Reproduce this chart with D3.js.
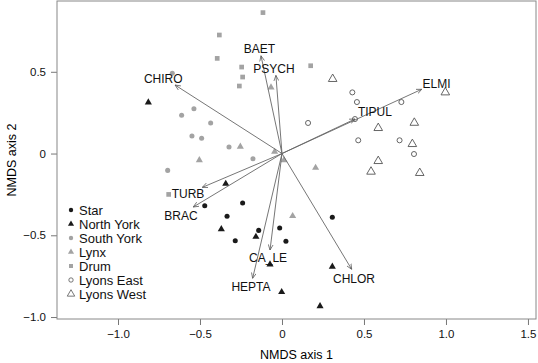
<!DOCTYPE html>
<html>
<head>
<meta charset="utf-8">
<script src="https://cdn.jsdelivr.net/npm/d3@7"></script>
<style>
  body { margin: 0; background: #fff; }
  svg { font-family: "Liberation Sans", Arial, sans-serif; }
</style>
</head>
<body>
<div id="chart"></div>
<script>
// site scores, one array per site (NMDS1, NMDS2)
const star = [[-0.471, -0.319], [-0.240, -0.303], [-0.335, -0.384], [-0.142, -0.470],
  [-0.285, -0.533], [-0.014, -0.456], [0.024, -0.537], [0.307, -0.390]];
const northYork = [[-0.815, 0.313], [-0.343, -0.185], [-0.370, -0.462], [-0.159, -0.509],
  [-0.073, -0.678], [0.307, -0.692], [-0.002, -0.847], [0.232, -0.933]];
const southYork = [[-0.669, 0.491], [-0.537, 0.274], [-0.612, 0.234], [-0.435, 0.187],
  [-0.549, 0.107], [-0.490, 0.093], [-0.323, 0.040], [-0.177, -0.032], [-0.697, -0.103]];
const lynx = [[-0.254, 0.042], [-0.504, -0.040], [-0.045, 0.011], [0.012, -0.040],
  [0.205, -0.087], [0.065, -0.382], [-0.067, 0.405]];
const drum = [[-0.116, 0.862], [-0.382, 0.725], [-0.395, 0.582], [-0.246, 0.529],
  [-0.240, 0.468], [-0.260, 0.413], [0.175, 0.537], [-0.691, -0.250]];
const lyonsEast = [[0.429, 0.374], [0.457, 0.315], [0.728, 0.315], [0.159, 0.187],
  [0.445, 0.211], [0.465, 0.081], [0.717, 0.081], [0.805, -0.003]];
const lyonsWest = [[0.309, 0.456], [0.996, 0.374], [0.587, 0.156], [0.807, 0.188],
  [0.795, 0.058], [0.587, -0.046], [0.543, -0.111], [0.840, -0.119]];

// fitted taxa vectors
const taxa = ['ELMI', 'TIPUL', 'BAET', 'PSYCH', 'CHIRO', 'TURB', 'BRAC', 'CA_LE', 'HEPTA', 'CHLOR'];
const tipX = [0.852, 0.445, -0.128, -0.037, -0.652, -0.486, -0.541, -0.073, -0.179, 0.425];
const tipY = [0.393, 0.211, 0.598, 0.478, 0.419, -0.207, -0.327, -0.590, -0.763, -0.708];
const labelX = [0.943, 0.567, -0.138, -0.049, -0.724, -0.573, -0.616, -0.085, -0.189, 0.439];
const labelY = [0.429, 0.256, 0.639, 0.519, 0.456, -0.248, -0.382, -0.637, -0.817, -0.763];

const xTicks = [-1, -0.5, 0, 0.5, 1, 1.5];
const yTicks = [-1, -0.5, 0, 0.5];

const width = 538, height = 363;
const margin = {top: 1, left: 57, right: 2, bottom: 44};

let svg = d3.select('#chart')
  .append('svg')
    .attr('width', width)
    .attr('height', height);

let x = d3.scaleLinear()
  .domain([-1.372, 1.549])
  .range([margin.left, width - margin.right]);
let y = d3.scaleLinear()
  .domain([-1.012, 0.933])
  .range([height - margin.bottom, margin.top]);

let fmt = function(d) { return d === 0 ? '0' : d3.format('.1f')(d); };

// axes
let xAxis = svg.append('g')
  .attr('transform', 'translate(0,' + (height - margin.bottom) + ')')
  .call(d3.axisBottom(x).tickValues(xTicks).tickFormat(fmt).tickSize(6).tickPadding(5));
let yAxis = svg.append('g')
  .attr('transform', 'translate(' + margin.left + ',0)')
  .call(d3.axisLeft(y).tickValues(yTicks).tickFormat(fmt).tickSize(6).tickPadding(5));
[xAxis, yAxis].forEach(function(a) {
  a.select('.domain').remove();
  a.selectAll('line').attr('stroke', '#777');
  a.selectAll('text').style('font-size', '11.5px').attr('fill', '#111')
    .style('font-family', '"Liberation Sans", Arial, sans-serif');
});

// plot box
svg.append('rect')
  .attr('x', x.range()[0])
  .attr('y', y.range()[1])
  .attr('width', x.range()[1] - x.range()[0])
  .attr('height', y.range()[0] - y.range()[1])
  .attr('fill', 'none')
  .attr('stroke', '#888')
  .attr('stroke-width', 1);

// axis titles
svg.append('text')
  .attr('x', (x.range()[0] + x.range()[1]) / 2)
  .attr('y', 359)
  .style('font-size', '12.5px')
  .style('text-anchor', 'middle')
  .text('NMDS axis 1');
svg.append('text')
  .attr('transform', 'translate(16,' + ((y.range()[0] + y.range()[1]) / 2) + ') rotate(-90)')
  .style('font-size', '12.5px')
  .style('text-anchor', 'middle')
  .text('NMDS axis 2');

// arrowhead
svg.append('defs').append('marker')
  .attr('id', 'head')
  .attr('viewBox', '0 0 10 10')
  .attr('refX', 9)
  .attr('refY', 5)
  .attr('markerWidth', 6)
  .attr('markerHeight', 6)
  .attr('markerUnits', 'userSpaceOnUse')
  .attr('orient', 'auto')
  .append('path')
    .attr('d', 'M0,1 L9,5 L0,9')
    .attr('fill', 'none')
    .attr('stroke', '#555')
    .attr('stroke-width', 1.2);

// site groups with their symbols
const groups = [
  {name: 'Star', data: star, type: d3.symbolCircle, size: 20, fill: '#1a1a1a', stroke: 'none'},
  {name: 'North York', data: northYork, type: d3.symbolTriangle, size: 22, fill: '#1a1a1a', stroke: 'none'},
  {name: 'South York', data: southYork, type: d3.symbolCircle, size: 20, fill: '#a3a3a3', stroke: 'none'},
  {name: 'Lynx', data: lynx, type: d3.symbolTriangle, size: 22, fill: '#a3a3a3', stroke: 'none'},
  {name: 'Drum', data: drum, type: d3.symbolSquare, size: 22, fill: '#a3a3a3', stroke: 'none'},
  {name: 'Lyons East', data: lyonsEast, type: d3.symbolCircle, size: 20, fill: 'none', stroke: '#555'},
  {name: 'Lyons West', data: lyonsWest, type: d3.symbolTriangle, size: 32, fill: 'none', stroke: '#555'}
];

groups.forEach(function(g) {
  svg.append('g').selectAll('path')
    .data(g.data)
    .enter()
    .append('path')
      .attr('d', d3.symbol().type(g.type).size(g.size))
      .attr('transform', function(d) { return 'translate(' + x(d[0]) + ',' + y(d[1]) + ')'; })
      .attr('fill', g.fill)
      .attr('stroke', g.stroke)
      .attr('stroke-width', 0.9);
});

// vectors
svg.append('g').selectAll('line')
  .data(taxa)
  .enter()
  .append('line')
    .attr('x1', x(0))
    .attr('y1', y(0))
    .attr('x2', function(d, i) { return x(tipX[i]); })
    .attr('y2', function(d, i) { return y(tipY[i]); })
    .attr('stroke', '#666')
    .attr('stroke-width', 0.9)
    .attr('marker-end', 'url(#head)');

svg.append('g').selectAll('text')
  .data(taxa)
  .enter()
  .append('text')
    .attr('x', function(d, i) { return x(labelX[i]); })
    .attr('y', function(d, i) { return y(labelY[i]); })
    .attr('dy', '0.36em')
    .style('font-size', '12px')
    .style('text-anchor', 'middle')
    .attr('fill', '#111')
    .text(function(d) { return d; });

// legend (symbols a little smaller than in the plot)
let legend = svg.append('g')
  .attr('transform', 'translate(71,210)');
let items = legend.selectAll('g')
  .data(groups)
  .enter()
  .append('g')
    .attr('transform', function(d, i) { return 'translate(0,' + (i * 14) + ')'; });
items.append('path')
  .attr('d', function(g) { return d3.symbol().type(g.type).size(g.size * 0.75)(); })
  .attr('fill', function(g) { return g.fill; })
  .attr('stroke', function(g) { return g.stroke; })
  .attr('stroke-width', 0.8);
items.append('text')
  .attr('x', 8)
  .attr('dy', '0.36em')
  .style('font-size', '13px')
  .attr('fill', '#111')
  .text(function(g) { return g.name; });
</script>
</body>
</html>
